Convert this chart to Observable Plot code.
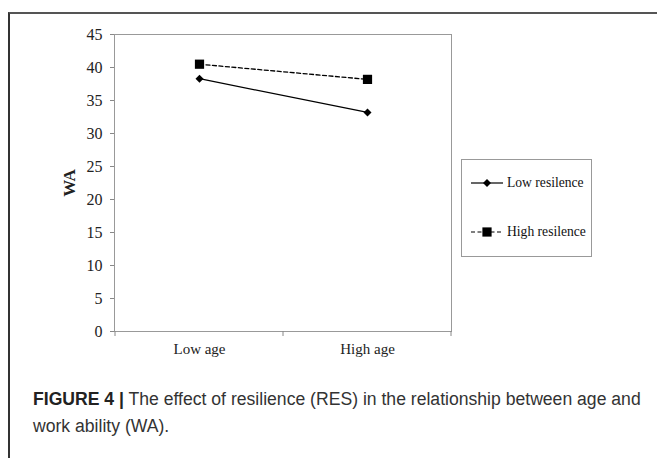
<!DOCTYPE html>
<html><head><meta charset="utf-8">
<script src="https://cdn.jsdelivr.net/npm/d3@7"></script>
<script src="https://cdn.jsdelivr.net/npm/@observablehq/plot@0.6"></script>
<style>
body{margin:0;background:#fff;width:657px;height:458px;overflow:hidden;position:relative}
#frame{position:absolute;left:8px;top:12px;width:660px;height:460px;border-top:2px solid #555;border-left:2px solid #333;box-sizing:border-box}
#chart{position:absolute;left:0;top:0}
#chart svg text{font-family:"Liberation Serif","Times New Roman",serif !important}
#chart svg g[aria-label="y-axis tick label"] text{font-size:16px !important}
#chart svg g[aria-label="x-axis tick label"] text{font-size:15px !important}
#chart svg g[aria-label="y-axis label"] text{font-weight:bold;font-size:17px !important}
#legend{position:absolute;left:461px;top:159px;width:131px;height:98px;border:1px solid #999;box-sizing:border-box;font-family:"Liberation Serif",serif;font-size:13.6px;color:#111}
.item{position:absolute;left:8px;display:flex;align-items:center;gap:3px;white-space:nowrap}
#caption{position:absolute;left:33px;top:386px;width:620px;font-family:"Liberation Sans",Arial,sans-serif;font-size:17.6px;line-height:27px;color:#333}
#caption div{white-space:nowrap}
#caption b{color:#222}
</style></head>
<body>
<div id="frame"></div>
<div id="chart"></div>
<div id="legend"></div>
<div id="caption"><div><b>FIGURE 4 |</b><span> The effect of resilience (RES) in the relationship between age and</span></div><div>work ability (WA).</div></div>
<script>
const ages = ["Low age", "High age"];
const groups = ["Low resilence", "High resilence"];
const lowRes = [38.3, 33.2];
const highRes = [40.5, 38.2];
const yTicks = [0,5,10,15,20,25,30,35,40,45];

const series = [
  {name: groups[0], values: lowRes, symbol: "diamond2", r: 3.6, dash: null},
  {name: groups[1], values: highRes, symbol: "square", r: 5.2, dash: "4,2.5"}
];
const rows = series.flatMap(s => ages.map((a, i) => ({group: s.name, age: a, wa: s.values[i]})));

const marks = [Plot.frame({stroke: "#999", strokeWidth: 1})];
for (const s of series) {
  const d = rows.filter(r => r.group === s.name);
  marks.push(Plot.line(d, {x: "age", y: "wa", stroke: "#000", strokeWidth: 1.3, strokeDasharray: s.dash}));
  marks.push(Plot.dot(d, {x: "age", y: "wa", symbol: s.symbol, r: s.r, fill: "#000", stroke: "none"}));
}

const plot = Plot.plot({
  width: 657, height: 360,
  marginLeft: 114, marginRight: 206, marginTop: 34, marginBottom: 29,
  style: {fontSize: "15px", color: "#222", background: "transparent", overflow: "visible"},
  x: {type: "band", domain: ages, padding: 0, label: null},
  y: {domain: [0, 45], ticks: yTicks, label: "WA"},
  marks: [
    ...marks,
    Plot.axisY({ticks: yTicks, tickSize: 4, tickPadding: 8, stroke: "#888", fontSize: 16, label: "WA", labelAnchor: "center", labelArrow: "none", labelOffset: 52, fill: "#222"}),
    Plot.axisX({tickSize: 0, tickPadding: 12, fontSize: 15, label: null, fill: "#222"})
  ]
});
document.getElementById("chart").appendChild(plot);

// boundary tick marks on the category axis, taken from the band scale
const xs = plot.scale("x");
const yb = 360 - 29;
const edges = ages.map(a => xs.apply(a)).concat([xs.apply(ages[ages.length-1]) + xs.bandwidth]);
const svg = d3.select(plot);
edges.forEach(x => svg.append("line").attr("x1", x).attr("x2", x).attr("y1", yb).attr("y2", yb + 5).attr("stroke", "#888"));

// legend
const leg = d3.select("#legend");
series.forEach((s, i) => {
  const item = leg.append("div").attr("class", "item").style("top", (i === 0 ? 15 : 64) + "px");
  const sw = item.append("svg").attr("width", 34).attr("height", 14);
  sw.append("line").attr("x1", 1).attr("x2", 33).attr("y1", 7).attr("y2", 7).attr("stroke", "#000").attr("stroke-width", 1.2).attr("stroke-dasharray", s.dash);
  const sym = s.symbol === "square" ? d3.symbolSquare : d3.symbolDiamond2;
  sw.append("path").attr("transform", "translate(17,7)").attr("d", d3.symbol(sym, Math.PI * s.r * s.r)());
  item.append("span").text(s.name);
});
</script>
</body></html>
